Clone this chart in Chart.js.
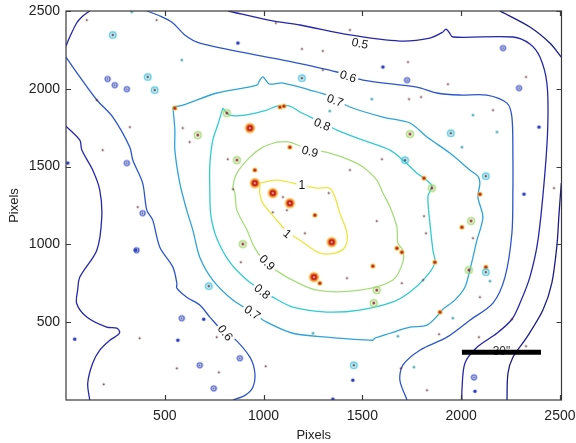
<!DOCTYPE html>
<html>
<head>
<meta charset="utf-8">
<script src="https://cdn.jsdelivr.net/npm/chart.js@4.4.1/dist/chart.umd.min.js"></script>
<style>
  html, body { margin: 0; padding: 0; background: #fff; }
  canvas { display: block; }
</style>
</head>
<body>
<canvas id="map" width="576" height="443"></canvas>
<script>
// axis ticks (image pixels)
const xTicks = [500, 1000, 1500, 2000, 2500];
const yTicks = [500, 1000, 1500, 2000, 2500];
const xMax = 2508;
const yMax = 2500;

// contour lines, [x, y] in image pixels
const lvl04Top = [[2196,2500],[2348,2397],[2449,2294],[2507,2204]];
const lvl04Right = [[2507,1394],[2495,1188],[2485,995],[2459,751],[2414,578],[2333,404],[2262,275],[2237,172],[2232,0]];
const lvl05Corner = [[120,2500],[80,2462],[54,2423],[19,2333],[0,2275]];
const lvl05Left = [[0,1760],[70,1670],[80,1606],[135,1478],[171,1349],[181,1175],[156,963],[70,790],[59,706],[54,620],
  [105,533],[206,468],[257,462],[272,436],[262,417],[222,384],[171,320],[135,236],[110,108],[120,0]];
const lvl05Outer = [[820,2500],[1047,2436],[1184,2410],[1437,2346],[1690,2307],[1842,2326],[1908,2365],[1923,2384],
  [1938,2365],[1958,2333],[2262,2333],[2348,2288],[2399,2204],[2434,2037],[2439,1780],[2424,1458],[2389,1027],
  [2348,790],[2298,623],[2257,519],[2181,429],[2080,339],[2019,236],[2004,63],[2004,0]];
const lvl06Left = [[0,2204],[70,2076],[156,1928],[237,1818],[323,1625],[338,1542],[388,1394],[409,1220],[439,1156],
  [475,982],[541,854],[561,751],[561,719],[611,661],[677,610],[728,533],[804,429],[845,404],[931,275],[956,172],
  [946,82],[906,30],[845,0]];
const lvl06Outer = [[409,2500],[475,2468],[541,2423],[601,2346],[677,2294],[1016,2204],[1098,2185],[1371,2108],
  [1503,2056],[1776,2011],[1877,1973],[1994,1960],[2130,1960],[2232,1908],[2257,1818],[2262,1561],[2262,1349],
  [2257,1072],[2222,790],[2161,623],[2044,513],[1928,404],[1791,320],[1705,224],[1690,127],[1726,0]];
const lvl07 = [[541,1883],[591,1895],[763,1973],[966,2024],[981,2056],[996,2076],[1011,2056],[1031,2030],[1098,2037],
  [1234,1992],[1320,1960],[1437,1883],[1604,1818],[1741,1780],[1827,1690],[1943,1587],[2044,1478],[2085,1439],
  [2095,1394],[2085,1304],[2110,1175],[2080,1027],[2060,918],[2044,835],[2019,725],[1968,642],[1908,584],[1893,559],
  [1827,481],[1741,468],[1640,429],[1563,397],[1553,384],[1320,404],[1148,429],[1016,500],[941,565],[845,642],
  [743,771],[677,918],[642,1092],[611,1220],[576,1394],[551,1606],[551,1735],[541,1883]];
const lvl08 = [[794,1876],[829,1831],[905,1831],[1016,1863],[1067,1889],[1133,1889],[1184,1851],[1270,1799],
  [1371,1735],[1503,1670],[1640,1606],[1705,1542],[1776,1458],[1812,1426],[1852,1375],[1832,1310],[1842,1137],
  [1857,963],[1867,880],[1817,783],[1741,694],[1655,630],[1487,578],[1320,565],[1148,597],[1047,661],[991,706],
  [916,771],[829,886],[763,1040],[733,1188],[728,1349],[728,1510],[743,1670],[768,1767],[794,1876]];
const lvl09 = [[1067,1658],[1133,1658],[1199,1625],[1335,1587],[1437,1542],[1503,1497],[1573,1413],[1604,1330],
  [1640,1240],[1675,1111],[1680,1008],[1705,963],[1705,886],[1655,771],[1487,706],[1270,706],[1118,790],[1016,880],
  [956,976],[916,1092],[865,1220],[855,1330],[845,1368],[865,1458],[931,1561],[996,1625],[1067,1658]];
const lvl10 = [[981,1394],[1067,1413],[1194,1381],[1270,1362],[1335,1362],[1361,1304],[1386,1201],[1422,1072],
  [1412,982],[1361,944],[1285,944],[1184,1027],[1118,1085],[1067,1156],[996,1265],[981,1330],[981,1394]];

// inline contour labels: text, position, angle (deg)
const contourLabels = [
  {text: '0.5', x: 1487, y: 2288, angle: 12},
  {text: '0.6', x: 1427, y: 2076, angle: 18},
  {text: '0.7', x: 1361, y: 1921, angle: 20},
  {text: '0.8', x: 1295, y: 1767, angle: 22},
  {text: '0.9', x: 1234, y: 1593, angle: 14},
  {text: '1', x: 1194, y: 1375, angle: 0},
  {text: '1', x: 1118, y: 1066, angle: 40},
  {text: '0.9', x: 1016, y: 880, angle: 45},
  {text: '0.8', x: 991, y: 694, angle: 40},
  {text: '0.7', x: 941, y: 559, angle: 35},
  {text: '0.6', x: 804, y: 429, angle: 52}
];

// point sources
const brightSrc = [[1047,1330],[1133,1265],[1345,1015],[931,1748],[1255,790],[956,1394]];
const hotSrc = [[1083,1883],[1103,1889],[956,1478],[1260,1188],[1285,751],[1675,976],[1700,950],[1553,861],[551,1876],
  [1867,886],[1893,565],[1812,1426],[2095,1323],[2004,1111],[2125,854],[1133,1625]];
const greenRingSrc = [[814,1844],[667,1703],[1573,706],[1558,623],[1741,1709],[865,1542],[895,1002],[2039,835],
  [2050,1150],[1852,1362]];
const cyanRingSrc = [[237,2346],[414,2076],[449,1992],[1194,2069],[1948,1715],[2125,1439],[2125,822],[1457,224],
  [723,732],[1716,1542]];
const blueRingSrc = [[211,2063],[247,2024],[308,1998],[308,1523],[388,1201],[1726,2056],[2212,2262],[2293,2005],
  [357,963],[586,526],[748,75],[880,269],[2065,146],[677,224]];
const blueDotSrc = [[870,2294],[1604,2140],[2394,1754],[9,1523],[353,963],[44,391],[566,384],[697,519],[2070,56],
  [2318,1323],[1452,127],[1351,6]];
const tealDotSrc = [[1335,1857],[1548,1934],[2060,1831],[2181,1722],[2004,1625],[333,2494],[586,2185],[2146,764],
  [1250,429],[1958,526],[1680,410],[1761,211]];
const darkDotSrc = [[105,2442],[459,2442],[156,1928],[323,1754],[1194,2256],[1300,2243],[1300,2121],[1933,2030],
  [1797,1947],[1736,1934],[1731,2172],[2328,2076],[2161,1863],[1437,1478],[1599,1548],[1330,1330],[1098,1304],
  [1118,1220],[1047,1207],[1209,1072],[1573,1150],[1422,783],[1700,751],[1807,771],[1822,1072],[1812,1182],
  [2060,1040],[2095,661],[2090,404],[2328,346],[1827,63],[373,397],[191,101],[561,204],[763,404],[1011,217],
  [1888,423],[1695,204],[2470,1362],[363,1240],[186,1606],[626,1658],[591,1748],[819,1548],[845,1355],[885,886],
  [1062,2423],[1437,2378],[2257,519],[774,178]];

// 30 arcsec scale bar
const barX = [2004, 2404];
const barY = 307;
const barText = '30"';
const barTextY = 290;

Chart.defaults.font.family = '"Liberation Sans", Arial, sans-serif';

const sprite = (size, draw) => {
  const c = document.createElement('canvas');
  c.width = c.height = size;
  const g = c.getContext('2d');
  g.translate(size / 2, size / 2);
  draw(g);
  return c;
};
const disc = (g, r, fill) => {
  g.beginPath(); g.arc(0, 0, r, 0, Math.PI * 2); g.fillStyle = fill; g.fill();
};
const ring = (g, r, stroke, w) => {
  g.beginPath(); g.arc(0, 0, r, 0, Math.PI * 2); g.strokeStyle = stroke; g.lineWidth = w; g.stroke();
};

const styles = {
  bright: sprite(13, g => { disc(g, 5.2, '#f7c25a'); disc(g, 4, '#ef8a30'); disc(g, 3, '#c01414'); disc(g, 1, '#ffe8e8'); }),
  hot: sprite(9, g => { disc(g, 2.6, '#f2c84a'); disc(g, 1.6, '#b51a1a'); }),
  greenRing: sprite(11, g => { ring(g, 3.4, '#9fd86c', 1.3); disc(g, 1.4, '#8a2a20'); }),
  cyanRing: sprite(11, g => { ring(g, 3.2, '#3cc2d8', 1.3); disc(g, 1.2, '#203450'); }),
  blueRing: sprite(9, g => { ring(g, 2.5, '#2f48c8', 1.2); disc(g, 0.9, '#24246a'); }),
  blueDot: sprite(7, g => { disc(g, 1.8, '#2a3ac0'); }),
  tealDot: sprite(5, g => { disc(g, 1.2, '#2a9ca8'); }),
  darkDot: sprite(5, g => { disc(g, 1, '#5a2c2c'); })
};

const toXY = pts => pts.map(([x, y]) => ({x, y}));

const contour = (pts, color) => ({
  data: toXY(pts),
  showLine: true,
  fill: false,
  borderColor: color,
  borderWidth: 1.3,
  pointRadius: 0,
  tension: 0.3,
  order: 5
});

const marks = (pts, style) => ({
  data: toXY(pts),
  showLine: false,
  pointStyle: style,
  pointRadius: 3,
  pointHoverRadius: 3,
  order: 2
});

const datasets = [
  contour(lvl04Top, '#1c1c86'),
  contour(lvl04Right, '#1c1c86'),
  contour(lvl05Corner, '#2626a8'),
  contour(lvl05Left, '#2626a8'),
  contour(lvl05Outer, '#2626a8'),
  contour(lvl06Left, '#2c56c8'),
  contour(lvl06Outer, '#2c56c8'),
  contour(lvl07, '#2ea4d8'),
  contour(lvl08, '#30cccf'),
  contour(lvl09, '#a6dc7a'),
  contour(lvl10, '#ece63c'),
  marks(darkDotSrc, styles.darkDot),
  marks(tealDotSrc, styles.tealDot),
  marks(blueDotSrc, styles.blueDot),
  marks(blueRingSrc, styles.blueRing),
  marks(cyanRingSrc, styles.cyanRing),
  marks(greenRingSrc, styles.greenRing),
  marks(hotSrc, styles.hot),
  marks(brightSrc, styles.bright),
  {
    data: barX.map(x => ({x, y: barY})),
    showLine: true,
    borderColor: '#000',
    borderWidth: 5,
    borderCapStyle: 'butt',
    pointRadius: 0,
    order: 0
  }
];

const framePlugin = {
  id: 'frame',
  beforeDatasetsDraw(chart) {
    const {ctx, scales: {x, y}} = chart;
    ctx.save();
    ctx.font = '12px "Liberation Sans", Arial, sans-serif';
    ctx.fillStyle = '#333';
    ctx.textAlign = 'center';
    ctx.textBaseline = 'alphabetic';
    ctx.fillText(barText, x.getPixelForValue((barX[0] + barX[1]) / 2), y.getPixelForValue(barTextY));
    ctx.restore();
  },
  afterDatasetsDraw(chart) {
    const {ctx, scales: {x, y}} = chart;
    ctx.save();
    ctx.font = '12px "Liberation Sans", Arial, sans-serif';
    ctx.textAlign = 'center';
    ctx.textBaseline = 'middle';
    contourLabels.forEach(l => {
      ctx.save();
      ctx.translate(x.getPixelForValue(l.x), y.getPixelForValue(l.y));
      ctx.rotate(l.angle * Math.PI / 180);
      const w = ctx.measureText(l.text).width;
      ctx.fillStyle = '#fff';
      ctx.fillRect(-w / 2 - 2, -6, w + 4, 12);
      ctx.fillStyle = '#111';
      ctx.fillText(l.text, 0, 0);
      ctx.restore();
    });
    ctx.restore();
  },
  afterDraw(chart) {
    const {ctx, chartArea: a, scales: {x, y}} = chart;
    ctx.save();
    ctx.strokeStyle = '#3a3a3a';
    ctx.lineWidth = 1.2;
    ctx.strokeRect(a.left, a.top, a.right - a.left, a.bottom - a.top);
    ctx.beginPath();
    xTicks.forEach(v => {
      const px = Math.round(x.getPixelForValue(v)) + 0.5;
      ctx.moveTo(px, a.bottom); ctx.lineTo(px, a.bottom - 5);
      ctx.moveTo(px, a.top); ctx.lineTo(px, a.top + 5);
    });
    yTicks.forEach(v => {
      const py = Math.round(y.getPixelForValue(v)) + 0.5;
      ctx.moveTo(a.left, py); ctx.lineTo(a.left + 5, py);
      ctx.moveTo(a.right, py); ctx.lineTo(a.right - 5, py);
    });
    ctx.stroke();
    ctx.restore();
  }
};

const axis = (max, ticks, size, title, titlePad) => ({
  type: 'linear',
  min: 0,
  max: max,
  border: {display: false},
  grid: {display: false, drawTicks: false},
  ticks: {
    color: '#222',
    font: {size: 14},
    padding: size === 'x' ? 8 : 6,
    maxRotation: 0,
    callback: v => String(v)
  },
  title: {display: true, text: title, color: '#222', font: {size: 13}, padding: titlePad},
  afterBuildTicks: scale => { scale.ticks = ticks.map(v => ({value: v})); },
  afterFit: scale => {
    if (size === 'x') {
      scale.height = 43;
      scale.paddingLeft = 0;
      scale.paddingRight = 0;
    } else {
      scale.width = 66;
      scale.paddingTop = 0;
      scale.paddingBottom = 0;
    }
  }
});

new Chart(document.getElementById('map'), {
  type: 'scatter',
  data: {datasets},
  options: {
    responsive: false,
    animation: false,
    events: [],
    layout: {padding: {top: 11, right: 14.5, left: 0, bottom: 0}},
    plugins: {legend: {display: false}, tooltip: {enabled: false}},
    scales: {
      x: axis(xMax, xTicks, 'x', 'Pixels', {top: 0, bottom: 0}),
      y: axis(yMax, yTicks, 'y', 'Pixels', {top: 7, bottom: 0})
    }
  },
  plugins: [framePlugin]
});
</script>
</body>
</html>
